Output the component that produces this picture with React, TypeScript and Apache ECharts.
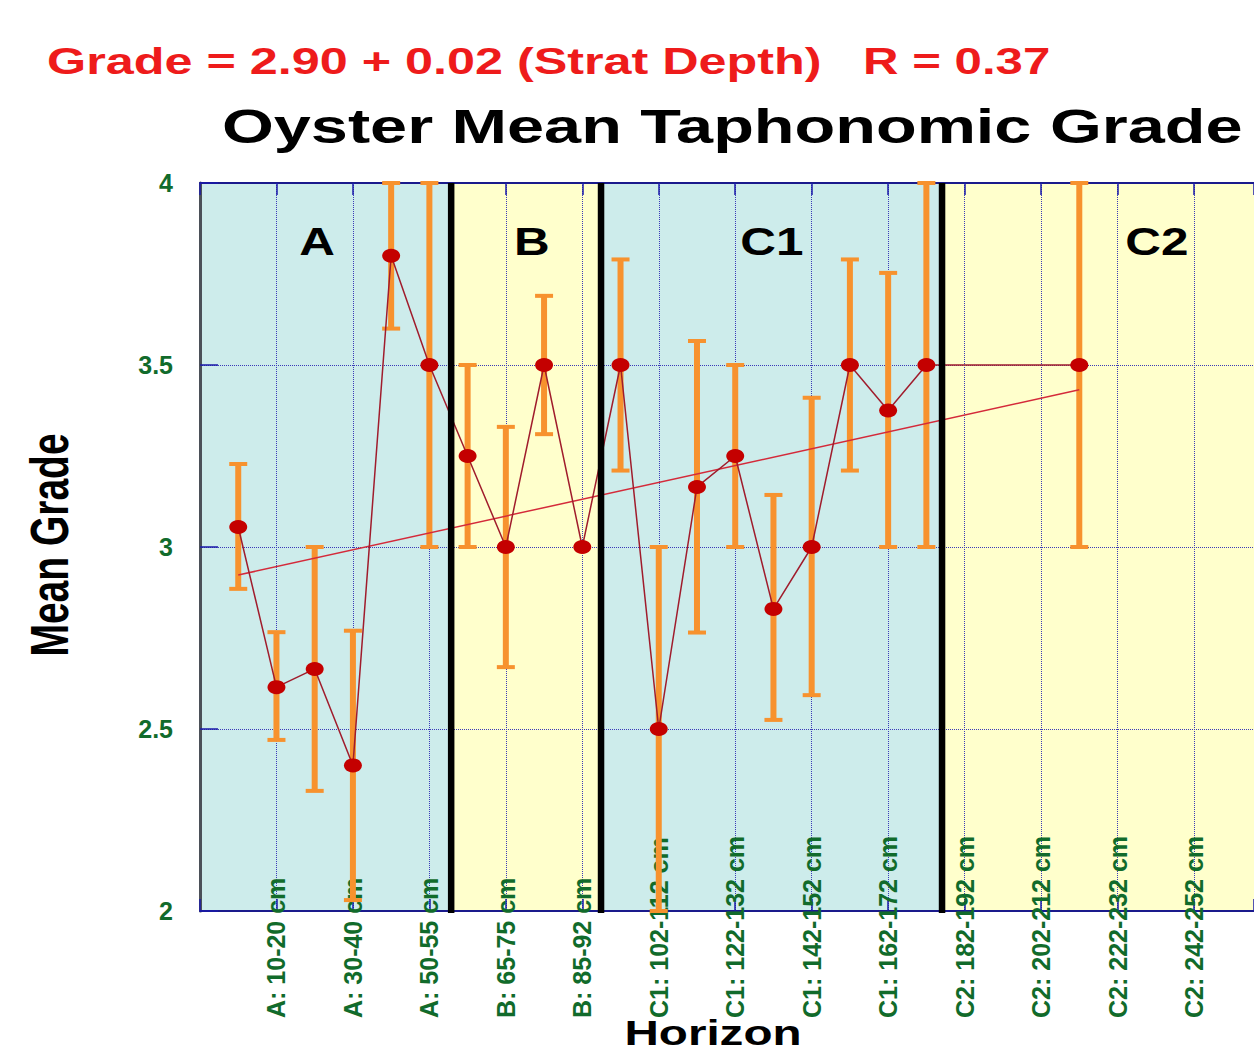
import React, { useEffect, useRef } from "react";
import * as echarts from "echarts";

// ---- data ----
const tickSlots = [2, 4, 6, 8, 10, 12, 14, 16, 18, 20, 22, 24, 26];
const tickLabels = [
  "A: 10-20 cm", "A: 30-40 cm", "A: 50-55 cm", "B: 65-75 cm", "B: 85-92 cm",
  "C1: 102-112 cm", "C1: 122-132 cm", "C1: 142-152 cm", "C1: 162-172 cm",
  "C2: 182-192 cm", "C2: 202-212 cm", "C2: 222-232 cm", "C2: 242-252 cm",
];
const sampleSlots = [1, 2, 3, 4, 5, 6, 7, 8, 9, 10, 11, 12, 13, 14, 15, 16, 17, 18, 19, 23];
const meanGrade = [3.055, 2.615, 2.665, 2.4, 3.8, 3.5, 3.25, 3.0, 3.5, 3.0, 3.5, 2.5, 3.165, 3.25, 2.83, 3.0, 3.5, 3.375, 3.5, 3.5];
const errLow = [2.885, 2.47, 2.33, 2.03, 3.6, 3.0, 3.0, 2.67, 3.31, null, 3.21, 2.0, 2.765, 3.0, 2.525, 2.593, 3.21, 3.0, 3.0, 3.0];
const errHigh = [3.228, 2.766, 3.0, 2.77, 4.0, 4.0, 3.5, 3.33, 3.69, null, 3.79, 3.0, 3.566, 3.5, 3.143, 3.41, 3.79, 3.753, 4.0, 4.0];
const regressionSlots = [1, 23];
const regressionGrade = [2.923, 3.432];
const zoneNames = ["A", "B", "C1", "C2"];
const zoneStart = [0, 6.57, 10.49, 19.41];
const zoneEnd = [6.57, 10.49, 19.41, 28];
const zoneBoundaries = [6.57, 10.49, 19.41];
const zoneLabelSlot = [3.06, 8.68, 14.96, 25.03];
const zoneLabelGrade = 3.84;

// ---- styles ----
const FONT = '"Liberation Sans", Arial, Helvetica, sans-serif';
const GREEN = "#116b2b";
const BLUE = "#1a1a8c";
const GRID_BLUE = "#3a3ab8";
const ORANGE = "#f7922e";
const zoneColors = ["#cdeceb", "#ffffcc", "#cdeceb", "#ffffcc"];

export default function App() {
  const ref = useRef<HTMLDivElement>(null);

  useEffect(() => {
    if (!ref.current) return;
    const chart = echarts.init(ref.current, null, { renderer: "svg" });

    const labelFor = (v: number) => {
      const k = Math.round(v);
      if (Math.abs(v - k) > 1e-6) return "";
      const idx = tickSlots.indexOf(k);
      return idx >= 0 ? tickLabels[idx] : "";
    };

    const errData = sampleSlots
      .map((s, i) => (errLow[i] == null ? null : [s, errLow[i], errHigh[i]]))
      .filter((d) => d !== null);

    const option: any = {
      animation: false,
      backgroundColor: "#ffffff",
      grid: { left: 200, right: 0, top: 183, bottom: 135, containLabel: false },
      xAxis: [
        {
          type: "value",
          position: "bottom",
          min: 0,
          max: 27.57,
          interval: 2,
          z: 1,
          axisLine: { show: true, onZero: false, lineStyle: { color: BLUE, width: 2 } },
          axisTick: { show: true, inside: true, length: 12, lineStyle: { color: "#1a1aa8", width: 1.5 } },
          axisLabel: {
            show: true,
            rotate: 90,
            align: "left",
            verticalAlign: "middle",
            margin: 107,
            fontSize: 25,
            fontWeight: "bold",
            fontFamily: FONT,
            color: GREEN,
            showMinLabel: true,
            showMaxLabel: true,
            formatter: (v: number) => labelFor(v),
          },
          splitLine: { show: true, lineStyle: { type: "dotted", color: GRID_BLUE, width: 1 } },
        },
        {
          type: "value",
          position: "top",
          min: 0,
          max: 27.57,
          interval: 2,
          z: 1,
          axisLine: { show: true, onZero: false, lineStyle: { color: BLUE, width: 2 } },
          axisTick: { show: true, inside: true, length: 12, lineStyle: { color: "#1a1aa8", width: 1.5 } },
          axisLabel: { show: false },
          splitLine: { show: false },
        },
      ],
      yAxis: {
        type: "value",
        min: 2,
        max: 4,
        interval: 0.5,
        z: 1,
        axisLine: { show: true, onZero: false, lineStyle: { color: "#4b5058", width: 3 } },
        axisTick: { show: true, inside: true, length: 18, lineStyle: { color: "#1a1aa8", width: 1.5 } },
        axisLabel: {
          margin: 27,
          fontSize: 25,
          fontWeight: "bold",
          fontFamily: FONT,
          color: GREEN,
        },
        splitLine: { show: true, lineStyle: { type: "dotted", color: GRID_BLUE, width: 1 } },
      },
      series: [
        {
          type: "custom",
          name: "zones",
          z: 0,
          silent: true,
          encode: { x: [0, 1] },
          data: zoneStart.map((s, i) => [s, zoneEnd[i], i]),
          renderItem: (params: any, api: any) => {
            const p0 = api.coord([api.value(0), 4]);
            const p1 = api.coord([api.value(1), 2]);
            const cs = params.coordSys;
            const shape = echarts.graphic.clipRectByRect(
              { x: p0[0], y: p0[1], width: p1[0] - p0[0], height: p1[1] - p0[1] },
              { x: cs.x, y: cs.y, width: cs.width, height: cs.height }
            );
            if (!shape) return null;
            return { type: "rect", shape, style: { fill: zoneColors[api.value(2)] } };
          },
        },
        {
          type: "custom",
          name: "zone labels",
          z: 2,
          silent: true,
          encode: { x: 0, y: 1 },
          data: zoneLabelSlot.map((s, i) => [s, zoneLabelGrade, i]),
          renderItem: (params: any, api: any) => {
            const p = api.coord([api.value(0), api.value(1)]);
            return {
              type: "text",
              x: p[0],
              y: p[1],
              scaleX: 1.3,
              style: {
                text: zoneNames[api.value(2)],
                fontSize: 38,
                fontWeight: "bold",
                fontFamily: FONT,
                fill: "#000000",
                align: "center",
                verticalAlign: "middle",
              },
            };
          },
        },
        {
          type: "custom",
          name: "error bars",
          z: 3,
          silent: true,
          encode: { x: 0, y: [1, 2] },
          data: errData,
          renderItem: (params: any, api: any) => {
            const x = api.value(0);
            const lo = api.coord([x, api.value(1)]);
            const hi = api.coord([x, api.value(2)]);
            const half = 9;
            return {
              type: "group",
              children: [
                { type: "line", shape: { x1: lo[0], y1: lo[1], x2: hi[0], y2: hi[1] }, style: { stroke: ORANGE, lineWidth: 6 } },
                { type: "line", shape: { x1: hi[0] - half, y1: hi[1], x2: hi[0] + half, y2: hi[1] }, style: { stroke: ORANGE, lineWidth: 4 } },
                { type: "line", shape: { x1: lo[0] - half, y1: lo[1], x2: lo[0] + half, y2: lo[1] }, style: { stroke: ORANGE, lineWidth: 4 } },
              ],
            };
          },
        },
        {
          type: "line",
          name: "regression",
          z: 4,
          silent: true,
          showSymbol: false,
          symbol: "none",
          data: regressionSlots.map((s, i) => [s, regressionGrade[i]]),
          lineStyle: { color: "#d42a3a", width: 1.5 },
        },
        {
          type: "line",
          name: "mean grade",
          z: 5,
          silent: true,
          symbol: "circle",
          symbolSize: [18, 14],
          data: sampleSlots.map((s, i) => [s, meanGrade[i]]),
          itemStyle: { color: "#c40000" },
          lineStyle: { color: "#a01c2c", width: 1.5 },
        },
        {
          type: "custom",
          name: "zone boundaries",
          z: 6,
          silent: true,
          encode: { x: 0 },
          data: zoneBoundaries.map((b) => [b]),
          renderItem: (params: any, api: any) => {
            const top = api.coord([api.value(0), 4]);
            const bot = api.coord([api.value(0), 2]);
            return {
              type: "line",
              shape: { x1: top[0], y1: top[1], x2: bot[0], y2: bot[1] + 2 },
              style: { stroke: "#000000", lineWidth: 6.5 },
            };
          },
        },
      ],
      graphic: [
        {
          type: "text",
          x: 47,
          y: 61,
          scaleX: 1.36,
          style: {
            text: "Grade = 2.90 + 0.02 (Strat Depth)",
            fontSize: 37,
            fontWeight: "bold",
            fontFamily: FONT,
            fill: "#ee1b1b",
            align: "left",
            verticalAlign: "middle",
          },
        },
        {
          type: "text",
          x: 863,
          y: 61,
          scaleX: 1.33,
          style: {
            text: "R = 0.37",
            fontSize: 37,
            fontWeight: "bold",
            fontFamily: FONT,
            fill: "#ee1b1b",
            align: "left",
            verticalAlign: "middle",
          },
        },
        {
          type: "text",
          x: 222,
          y: 126,
          scaleX: 1.36,
          style: {
            text: "Oyster Mean Taphonomic Grade",
            fontSize: 49,
            fontWeight: "bold",
            fontFamily: FONT,
            fill: "#000000",
            align: "left",
            verticalAlign: "middle",
          },
        },
        {
          type: "text",
          x: 50,
          y: 545,
          rotation: Math.PI / 2,
          scaleY: 1.36,
          style: {
            text: "Mean Grade",
            fontSize: 39,
            fontWeight: "bold",
            fontFamily: FONT,
            fill: "#000000",
            align: "center",
            verticalAlign: "middle",
          },
        },
        {
          type: "text",
          x: 713,
          y: 1033,
          scaleX: 1.36,
          style: {
            text: "Horizon",
            fontSize: 35,
            fontWeight: "bold",
            fontFamily: FONT,
            fill: "#000000",
            align: "center",
            verticalAlign: "middle",
          },
        },
      ],
    };

    chart.setOption(option);
    return () => chart.dispose();
  }, []);

  return (
    <div
      ref={ref}
      style={{ position: "absolute", left: 0, top: 0, width: 1254, height: 1046, background: "#ffffff" }}
    />
  );
}
